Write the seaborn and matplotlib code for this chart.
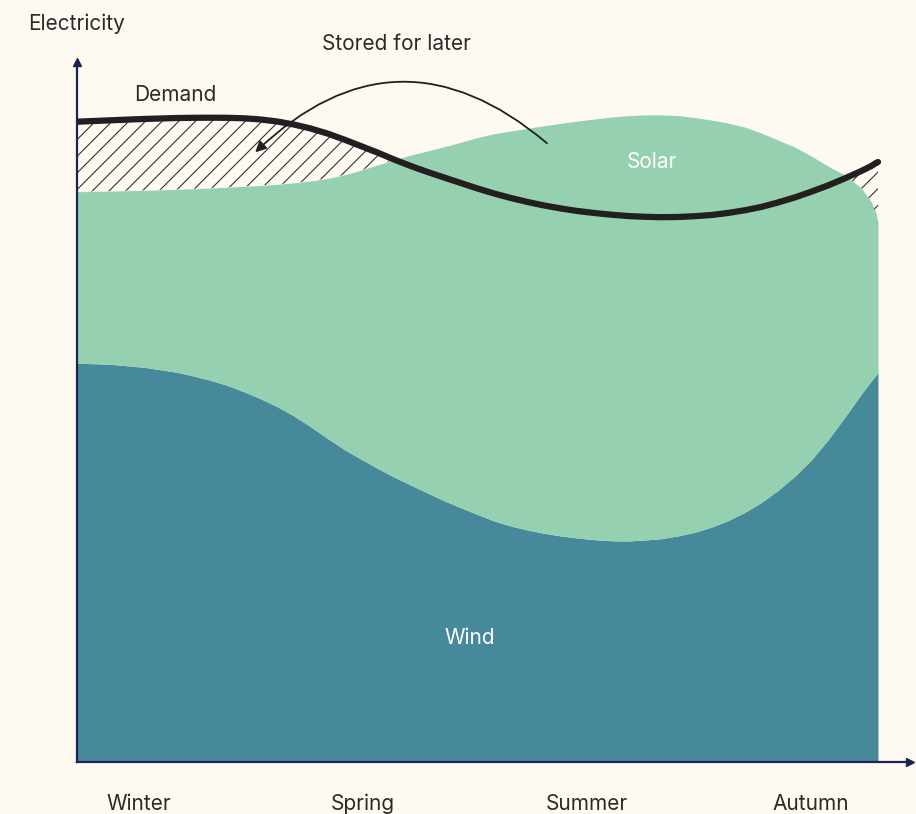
import matplotlib.pyplot as plt
import seaborn as sns
import pandas as pd

# months from start of winter (x) and electricity in arbitrary units (y)
months = [0, 0.25, 0.5, 0.75, 1, 1.25, 1.5, 1.75, 2, 2.25, 2.5, 2.75,
          3, 3.25, 3.5, 3.75, 4, 4.25, 4.5, 4.75, 5, 5.25, 5.5, 5.75,
          6, 6.25, 6.5, 6.75, 7, 7.25, 7.5, 7.75, 8, 8.25, 8.5, 8.75,
          9, 9.25, 9.5, 9.75, 10, 10.25, 10.5, 10.75, 11, 11.25, 11.5, 11.75,
          11.9, 11.97, 12]
wind = [56.96, 56.90, 56.81, 56.61, 56.39, 56.04, 55.67, 55.14, 54.53, 53.81,
        52.90, 51.90, 50.76, 49.43, 47.90, 46.24, 44.67, 43.29, 41.96, 40.71,
        39.57, 38.43, 37.33, 36.33, 35.36, 34.43, 33.71, 33.14, 32.67, 32.29,
        32.00, 31.76, 31.61, 31.57, 31.71, 31.90, 32.29, 32.81, 33.53, 34.47,
        35.64, 37.07, 38.79, 40.79, 43.14, 46.00, 49.21, 52.57, 54.43, 55.29,
        55.61]
solar = [24.51, 24.61, 24.76, 25.00, 25.28, 25.70, 26.14, 26.76, 27.47, 28.30,
         29.34, 30.47, 31.77, 33.31, 35.10, 37.12, 39.19, 41.24, 43.33, 45.29,
         47.14, 48.86, 50.57, 52.20, 53.85, 55.33, 56.43, 57.39, 58.23, 58.95,
         59.57, 60.10, 60.53, 60.76, 60.73, 60.54, 60.07, 59.26, 58.18, 56.82,
         55.07, 52.79, 50.07, 47.07, 43.43, 39.14, 34.65, 29.43, 25.57, 23.14,
         21.25]
demand = [91.47, 91.57, 91.67, 91.77, 91.86, 91.93, 92.00, 92.03, 92.04, 92.03,
          91.96, 91.79, 91.50, 91.07, 90.50, 89.79, 88.93, 88.00, 87.07, 86.07,
          85.14, 84.29, 83.50, 82.71, 81.93, 81.21, 80.57, 80.00, 79.50, 79.07,
          78.71, 78.43, 78.19, 78.00, 77.89, 77.83, 77.86, 77.97, 78.14, 78.43,
          78.81, 79.29, 79.93, 80.64, 81.47, 82.36, 83.36, 84.43, 85.14, 85.57,
          85.71]

seasons = ['Winter', 'Spring', 'Summer', 'Autumn']
season_pos = [0.93, 4.28, 7.64, 10.99]

df = pd.DataFrame({'month': months, 'wind': wind, 'solar': solar, 'demand': demand})
df['supply'] = df['wind'] + df['solar']

bg = '#fefaf2'
wind_col = '#46899b'
solar_col = '#95d1b0'
navy = '#1b2452'
ink = '#2b2b2b'

sns.set_theme(style='white')
plt.rcParams['font.family'] = ['Inter', 'DejaVu Sans']
plt.rcParams['hatch.linewidth'] = 0.8

fig = plt.figure(figsize=(9.16, 8.14), dpi=100, facecolor=bg)
ax = fig.add_axes([77 / 916, 52 / 814, 833 / 916, 700 / 814])
ax.set_facecolor(bg)

ax.fill_between(df['month'], 0, df['wind'], color=wind_col, lw=0)
ax.fill_between(df['month'], df['wind'], df['supply'], color=solar_col, lw=0)

# shortfall that needs stored energy
ax.fill_between(df['month'], df['supply'], df['demand'],
                where=df['demand'] > df['supply'], interpolate=True,
                facecolor='none', edgecolor='#333333', hatch='//', lw=0)

sns.lineplot(data=df, x='month', y='demand', ax=ax, color='#231f20', lw=4.5)

ax.set_xlim(0, 12 * 833 / 801)
ax.set_ylim(0, 100)
ax.set_xticks(season_pos)
ax.set_xticklabels(seasons, fontsize=15, color=ink)
ax.set_yticks([])
ax.tick_params(axis='x', length=0, pad=23)
ax.set_xlabel('')
ax.set_ylabel('')

for s in ['top', 'right']:
    ax.spines[s].set_visible(False)
for s in ['left', 'bottom']:
    ax.spines[s].set_color(navy)
    ax.spines[s].set_linewidth(1.6)
ax.plot(1, 0, '>', color=navy, ms=6, transform=ax.transAxes, clip_on=False)
ax.plot(0, 1, '^', color=navy, ms=6, transform=ax.transAxes, clip_on=False)

fig.text(28 / 916, 1 - 24 / 814, 'Electricity', fontsize=15, color=ink,
         ha='left', va='center')
ax.text(1.47, 95.3, 'Demand', fontsize=15, color=ink, ha='center', va='center')
ax.text(8.61, 85.7, 'Solar', fontsize=15, color='white', ha='center', va='center')
ax.text(5.89, 17.7, 'Wind', fontsize=15, color='white', ha='center', va='center')
ax.annotate('', xy=(2.67, 87.1), xytext=(7.04, 88.4),
            arrowprops=dict(arrowstyle='-|>', color='#231f20', lw=1.3,
                            connectionstyle='arc3,rad=0.45',
                            shrinkA=0, shrinkB=0, mutation_scale=16))
ax.text(4.78, 102.6, 'Stored for later', fontsize=15, color=ink,
        ha='center', va='center', clip_on=False)

fig.savefig('out.png', dpi=100, facecolor=bg)
